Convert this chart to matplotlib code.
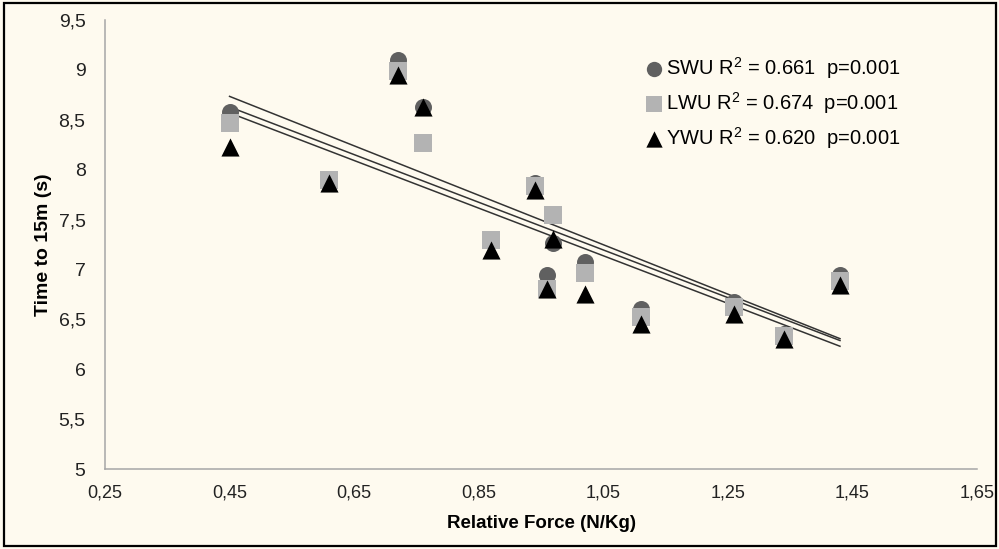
import numpy as np
import matplotlib
matplotlib.use('Agg')
import matplotlib.pyplot as plt
from matplotlib.patches import Rectangle

# relative force (N/Kg) and time to 15 m (s) for each warm-up
force = [0.45, 0.61, 0.72, 0.76, 0.87, 0.94, 0.96, 0.97, 1.02, 1.11, 1.26, 1.34, 1.43]
swu = [8.58, 7.90, 9.10, 8.63, 7.30, 7.87, 6.94, 7.27, 7.07, 6.60, 6.67, 6.35, 6.94]
lwu = [8.47, 7.90, 8.99, 8.27, 7.30, 7.84, 6.80, 7.55, 6.96, 6.52, 6.62, 6.33, 6.88]
ywu = [8.23, 7.87, 8.95, 8.63, 7.19, 7.80, 6.80, 7.31, 6.75, 6.45, 6.55, 6.30, 6.84]

labels = ['SWU R$^2$ = 0.661  p=0.001',
          'LWU R$^2$ = 0.674  p=0.001',
          'YWU R$^2$ = 0.620  p=0.001']

xticks = [0.25, 0.45, 0.65, 0.85, 1.05, 1.25, 1.45, 1.65]
yticks = [5, 5.5, 6, 6.5, 7, 7.5, 8, 8.5, 9, 9.5]

bg = '#fefaef'
plt.rcParams['font.family'] = ['Liberation Sans', 'DejaVu Sans']
plt.rcParams['mathtext.fontset'] = 'custom'
plt.rcParams['mathtext.rm'] = 'Liberation Sans'

fig = plt.figure(figsize=(9.99, 5.49), dpi=100, facecolor=bg)
fig.patches.append(Rectangle((0.004, 0.005), 0.993, 0.99, transform=fig.transFigure,
                             fill=False, edgecolor='black', lw=1.6))
ax = fig.add_axes([0.1051, 0.1457, 0.8729, 0.8179], facecolor=bg)

# linear trendline per warm-up over the measured force range
x = np.array(force)
xs = np.array([min(force), max(force)])
for y in (swu, lwu, ywu):
    m, b = np.polyfit(x, np.array(y), 1)
    ax.plot(xs, m * xs + b, color='#333333', lw=1.1, zorder=2)

h1 = ax.scatter(force, swu, marker='o', s=150, color='#606060', lw=0, zorder=3)
h2 = ax.scatter(force, lwu, marker='s', s=150, color='#b3b3b3', lw=0, zorder=4)
h3 = ax.scatter(force, ywu, marker='^', s=170, color='black', lw=0, zorder=5)

ax.set_xlim(0.25, 1.65)
ax.set_ylim(5, 9.5)
ax.set_xticks(xticks)
ax.set_xticklabels([('%.2f' % v).replace('.', ',') for v in xticks], fontsize=13)
ax.set_yticks(yticks)
ax.set_yticklabels([('%g' % v).replace('.', ',') for v in yticks], fontsize=14)
ax.tick_params(length=0, colors='#222222')
ax.tick_params(axis='x', pad=11)
ax.tick_params(axis='y', pad=14)

for s in ('top', 'right'):
    ax.spines[s].set_visible(False)
for s in ('left', 'bottom'):
    ax.spines[s].set_color('#a6a6a6')
    ax.spines[s].set_linewidth(1.1)

ax.set_xlabel('Relative Force (N/Kg)', fontsize=13.5, fontweight='bold', labelpad=10)
ax.set_ylabel('Time to 15m (s)', fontsize=14, fontweight='bold', labelpad=5)

ax.legend([h1, h2, h3], labels, loc='upper left', bbox_to_anchor=(0.638, 0.915),
          bbox_transform=fig.transFigure, frameon=False, fontsize=14.5,
          handlelength=0.9, handletextpad=0.1, labelspacing=0.45, borderaxespad=0,
          scatterpoints=1, markerscale=0.9)

plt.savefig('out.png', dpi=100, facecolor=bg)
